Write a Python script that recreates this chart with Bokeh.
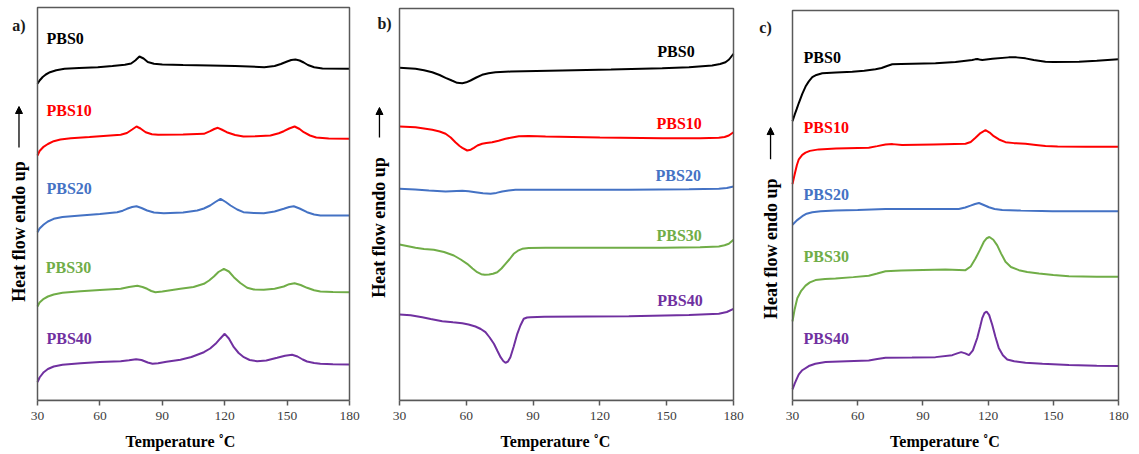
from bokeh.plotting import figure
from bokeh.layouts import row
from bokeh.models import Label, Arrow, NormalHead, FixedTicker, Range1d, BoxAnnotation
from bokeh.embed import file_html
from bokeh.resources import INLINE

samples = ["PBS0", "PBS10", "PBS20", "PBS30", "PBS40"]
colors = ["#000000", "#FF0000", "#4472C4", "#70AD47", "#7030A0"]
ticks = [30, 60, 90, 120, 150, 180]

# ---------------- panel a (heat flow, arbitrary offset units) ----------------
a0_t = [30, 31, 32.5, 34, 36, 39, 43, 50, 59, 66, 72, 75, 77, 79, 81, 83, 86, 90, 100, 113, 125, 139, 144, 147, 150, 152, 154, 156, 158, 160, 163, 167, 180]
a0_v = [316.7, 320, 323.5, 326, 328.3, 330.3, 331.7, 332.5, 333.3, 334.5, 335.7, 337, 340, 344, 342, 338.5, 336.8, 336, 335.5, 335, 334.5, 333.3, 334.5, 336.5, 339, 340.5, 341, 340, 338, 335.5, 333.3, 332, 331.7]
a10_t = [30, 31, 32.7, 35, 37.8, 41, 46, 55, 65, 70, 73, 75.5, 77.6, 79.5, 82, 85, 88, 100, 110, 113, 115, 116.7, 118.5, 121, 125, 129, 135, 142, 146, 148.4, 151, 153.6, 156, 158, 161, 164, 170, 180]
a10_v = [245, 249.5, 253.3, 256.5, 259.3, 261, 262.3, 263.5, 265, 265.7, 267.5, 271, 274, 272, 268.3, 266.3, 265.7, 266, 266.7, 269.3, 271.5, 272.7, 271, 268.3, 265.5, 264, 264.2, 265, 267.3, 269.3, 272, 274, 271.5, 268.3, 265, 263, 262, 261.7]
a20_t = [30, 31, 33, 35, 37.8, 42, 50.7, 60, 68.3, 71, 73, 75.5, 77.6, 80, 82.7, 86, 90.7, 100, 106.8, 110, 113, 115.5, 118, 120.5, 122.8, 126, 129, 134, 138.8, 144, 148.4, 151, 153.2, 156, 159.6, 163, 166, 172, 180]
a20_v = [168.3, 172, 176, 179, 181.7, 183.5, 185, 186.5, 188.3, 189.8, 191.7, 193.5, 194.3, 192.5, 190, 188, 187.3, 188, 190, 192, 195, 198.5, 201.7, 198.5, 195, 191, 188.3, 187.5, 187.3, 189, 191.7, 193.5, 194.3, 192, 188.3, 186, 185, 185, 185]
a30_t = [30, 31, 33, 35, 37.8, 42, 50.7, 60, 70, 74, 78, 80.5, 82.7, 84.7, 86.7, 90, 98.7, 105, 110, 112.5, 114.8, 117, 119.6, 122, 124.4, 127.5, 130.8, 134, 138.8, 144, 148.4, 151, 153.6, 156.5, 159.6, 163, 166, 172, 180]
a30_v = [94, 98, 101.7, 104, 106, 107.8, 109.3, 110.5, 111.7, 113.5, 114.7, 113.5, 111.7, 109.5, 108.3, 109, 111.7, 113.5, 116.7, 120, 124, 128.5, 131.7, 129, 123.3, 117.5, 112.7, 111, 110.7, 111.8, 114, 116.3, 117.3, 115.5, 112.7, 110.2, 109, 108.5, 108.3]
a40_t = [30, 31, 33, 35, 37.8, 42, 50.7, 60, 70, 74, 77.4, 80, 83, 85.3, 88, 92, 98.7, 104, 110, 113, 115.6, 117.8, 120, 122, 124.4, 126.7, 129.2, 132, 135.6, 140, 145.2, 149, 152.4, 155, 157.5, 159.6, 163, 166, 172, 180]
a40_v = [18.3, 23, 28.3, 31.5, 34, 35.8, 37.3, 38.5, 39.3, 40.3, 41.3, 40.5, 38, 36.7, 37.3, 38.8, 40.7, 43.5, 48.3, 52, 56.7, 61.8, 66.7, 62, 53.3, 47.5, 43.3, 40.5, 39.3, 40, 42.7, 44.8, 45.7, 44, 41, 39, 37.5, 36.7, 36.2, 36]

# ---------------- panel b ----------------
b0_t = [30, 37.2, 41, 44.7, 48, 50.7, 53.5, 55.9, 58.2, 60, 61.9, 64.5, 67.1, 70, 73.1, 80, 103, 125, 148, 160, 170.4, 174, 176.4, 178, 179.4, 180]
b0_v = [332.7, 331.7, 330.3, 328.3, 325.5, 322.7, 320, 317.7, 317.3, 318.2, 320, 323, 325.7, 327.3, 328.3, 329, 330, 331, 332.3, 333.3, 335, 336.5, 338.3, 341, 345, 346.7]
b10_t = [30, 37.2, 44.7, 48, 50.7, 53, 55.1, 57, 58.2, 60.4, 62, 63.4, 65, 67.1, 69, 71.6, 74.5, 77.6, 80.5, 83.6, 88, 95.6, 120, 148, 165, 173.4, 176, 177.9, 180]
b10_v = [274, 273.3, 270.7, 269, 266.7, 263, 258.3, 254.5, 252.7, 250, 250.8, 252.7, 255, 256.7, 257.5, 258.3, 259.8, 261.7, 263, 264.3, 264.5, 264, 263, 262.3, 262.3, 262.7, 263.5, 265, 268.3]
b20_t = [30, 37, 43.2, 50.7, 58.2, 61, 64.1, 67.5, 70.9, 73.5, 76.1, 79, 82.1, 100, 133, 160, 173.4, 177, 180]
b20_v = [211.7, 211, 210, 209, 209.7, 209.3, 208.3, 207.2, 206.7, 207.6, 209, 210, 210.7, 210.7, 210.7, 211.2, 211.7, 212.5, 214]
b30_t = [30, 37.2, 41, 45.4, 50, 54.4, 57.5, 60.4, 62.8, 64.9, 66.7, 68.3, 70.2, 72, 73.9, 75.8, 77.6, 79.5, 81.3, 83.2, 85.1, 88, 95.6, 120, 148, 165, 173.4, 176, 177.9, 180]
b30_v = [156, 152.7, 151.5, 150.7, 148.5, 145, 141, 136.7, 132, 128.3, 126.3, 125.7, 126, 126.8, 128.3, 132, 136.7, 141.5, 146.7, 149.8, 151.7, 152.4, 152.7, 152.7, 152.7, 153.2, 154, 155.2, 156.7, 160.7]
b40_t = [30, 35, 40.2, 44, 49.2, 54, 58.2, 61, 64.1, 66.5, 68.6, 70.5, 72.4, 74, 75.4, 76.6, 77.6, 78.7, 79.8, 81.3, 82.9, 84.3, 85.8, 87.3, 88.8, 95, 133, 160, 173.4, 177, 180]
b40_v = [86, 85.2, 83.3, 81.5, 79.3, 78.2, 77.3, 76, 74, 71.5, 68.3, 63, 56.7, 49.5, 43.3, 39.5, 37.7, 39, 43.3, 54, 66.7, 75, 81.7, 83, 83.3, 83.7, 84.3, 85.5, 86.7, 88.5, 91.7]

# ---------------- panel c ----------------
c0_t = [30, 31, 32, 32.9, 34.5, 36, 37.5, 39.1, 41, 43.7, 50, 57.5, 63, 68.2, 71, 73.5, 75.9, 80, 95.8, 105, 112.7, 114, 115, 116, 117.3, 122, 129.5, 133, 137.2, 141, 146.4, 150, 161.8, 170, 180]
c0_v = [281.3, 288, 294, 299.7, 309, 316.3, 321.5, 325.7, 328, 329.7, 330.5, 331.3, 332.3, 333.7, 335, 337, 338.7, 339, 339.7, 341, 343, 343.7, 344, 343.5, 343, 344.3, 345.7, 345.7, 344.7, 343, 341.3, 341, 341.3, 342.3, 343.7]
c10_t = [30, 31, 32, 32.9, 34.5, 36, 38, 42.1, 50, 65.1, 69, 72.8, 76, 80.4, 95, 109.6, 112, 114.2, 116.5, 118.8, 120.7, 122.6, 125, 128, 132, 137.2, 142, 146.4, 152, 165, 180]
c10_v = [218, 228, 237, 243, 247.5, 249.7, 251.5, 253, 253.8, 254.7, 256.3, 258, 258.3, 257.3, 258, 258.7, 260.5, 264.7, 269.5, 272.3, 270, 266.3, 263, 260.3, 259.3, 258.7, 257.5, 256.3, 255.8, 255.7, 255.7]
c20_t = [30, 32, 34.5, 36.5, 39.1, 43, 49.8, 60, 72.8, 90, 106.5, 109.5, 111.9, 114, 115.8, 118, 120.4, 123, 126.5, 135, 149.5, 165, 180]
c20_v = [177, 181.5, 185.7, 188.2, 189.7, 190.7, 191.3, 192, 193, 193, 193, 194.5, 196.3, 198, 199, 197, 194.7, 193, 192, 191.3, 190.7, 190.7, 190.7]
c30_t = [30, 31, 32.2, 34, 36, 38, 40.6, 45, 49.8, 58, 65.1, 69, 72.8, 80, 90, 100.4, 109.6, 112, 114.2, 116.2, 118, 119.4, 120.6, 122.4, 124.2, 126, 128, 130.5, 134.2, 138, 143.4, 150, 157.2, 170, 180]
c30_v = [79.7, 92, 103, 110.5, 115.7, 119, 121.3, 122.3, 123, 124.3, 125.7, 128, 130.3, 131, 131.5, 132, 131.3, 135, 143, 151.5, 159.7, 163.5, 164.7, 162, 156.3, 148, 139.7, 134.5, 131.3, 129.5, 128, 126.5, 125.3, 124.8, 124.7]
c40_t = [30, 31, 32, 32.9, 34.5, 37.5, 40.5, 45.2, 55, 65.1, 69, 72.8, 85, 95.8, 103.5, 105.8, 107.6, 109.5, 111.2, 113, 115, 116.3, 117.3, 118.3, 119.3, 120.5, 121.9, 123.4, 124.9, 126.8, 128.8, 132, 137.2, 145, 157.2, 170, 180]
c40_v = [11.3, 17, 22, 26.3, 30.5, 34.7, 37, 38.7, 39.5, 40.3, 41.8, 43, 43.3, 43.7, 45.7, 47.5, 48.7, 47.5, 45.7, 50.5, 63, 74, 83, 88, 89.7, 86, 76.3, 64, 53, 45.5, 41.3, 39.5, 38, 37, 35.7, 35, 34.7]

FONT = "Liberation Serif"
AXIS_COL = "#595959"
FIG_H = 454


def make_panel(curves, letter, label_xy, width, box_px, bottom_px, ytop, letter_xy, ylab_xy, arrow_y):
    # box_px: left/right pixel of the 30..180 box inside this figure
    bl, br = box_px
    scale = (br - bl) / 150.0
    x0 = 30 - bl / scale
    x1 = 180 + (width - br) / scale
    p = figure(width=width, height=FIG_H, output_backend="svg", toolbar_location=None,
               title=None, x_range=Range1d(x0, x1), y_range=Range1d(0, bottom_px),
               min_border_left=0, min_border_right=0,
               min_border_top=0, min_border_bottom=FIG_H - bottom_px)
    p.xgrid.visible = False
    p.ygrid.visible = False
    p.yaxis.visible = False
    p.outline_line_color = None
    p.background_fill_color = "white"
    p.border_fill_color = "white"
    ax = p.xaxis[0]
    ax.bounds = (30, 180)
    ax.ticker = FixedTicker(ticks=ticks)
    ax.axis_line_color = AXIS_COL
    ax.axis_line_width = 1.5
    ax.major_tick_line_color = AXIS_COL
    ax.major_tick_line_width = 1.5
    ax.major_tick_in = 0
    ax.major_tick_out = 5
    ax.minor_tick_line_color = None
    ax.major_label_text_font = FONT
    ax.major_label_text_font_size = "13.5px"
    ax.major_label_text_color = "#404040"
    ax.major_label_standoff = 6
    ax.axis_label = "Temperature ˚C"
    ax.axis_label_text_font = FONT
    ax.axis_label_text_font_style = "bold"
    ax.axis_label_text_font_size = "16px"
    ax.axis_label_text_color = "#000000"
    ax.axis_label_standoff = 10

    p.add_layout(BoxAnnotation(left=30, right=180, bottom=0, top=ytop, fill_color=None,
                               fill_alpha=0, line_color=AXIS_COL, line_width=1.5, line_alpha=1))

    for (t, v), c in zip(curves, colors):
        p.line(t, v, line_color=c, line_width=2)

    for name, c, (lx, ly) in zip(samples, colors, label_xy):
        p.add_layout(Label(x=lx, y=ly, text=name, text_color=c, text_font=FONT,
                           text_font_style="bold", text_font_size="16px",
                           text_align="left", text_baseline="middle"))

    p.add_layout(Label(x=letter_xy[0], y=letter_xy[1], text=letter, text_font=FONT,
                       text_font_style="bold", text_font_size="16px", text_color="#1a1a1a",
                       text_align="center", text_baseline="middle"))
    p.add_layout(Label(x=ylab_xy[0], y=ylab_xy[1], text="Heat flow endo up", angle=1.5707963,
                       text_font=FONT, text_font_style="bold", text_font_size="18px",
                       text_color="#000000", text_align="center", text_baseline="middle"))
    p.add_layout(Arrow(end=NormalHead(size=7, fill_color="black", line_color="black"),
                       x_start=ylab_xy[0], y_start=arrow_y[0], x_end=ylab_xy[0], y_end=arrow_y[1],
                       line_color="black", line_width=1.3))
    return p


pa = make_panel([(a0_t, a0_v), (a10_t, a10_v), (a20_t, a20_v), (a30_t, a30_v), (a40_t, a40_v)],
                "a)", [(34.3, 362), (34.3, 290), (34.3, 212), (34.0, 133), (34.3, 62)],
                360, (37, 349), 400, 393, (21.1, 375), (21.1, 169), (253, 294))
pb = make_panel([(b0_t, b0_v), (b10_t, b10_v), (b20_t, b20_v), (b30_t, b30_v), (b40_t, b40_v)],
                "b)", [(145.8, 349), (145.4, 277), (145.0, 225), (145.4, 165), (145.8, 100)],
                390, (39, 373), 400, 392, (23.3, 377), (21.0, 173), (263, 293))
pc = make_panel([(c0_t, c0_v), (c10_t, c10_v), (c20_t, c20_v), (c30_t, c30_v), (c40_t, c40_v)],
                "c)", [(35.1, 346), (35.1, 275), (35.1, 208), (35.1, 145), (35.1, 62)],
                389, (42, 368), 403, 393, (17.6, 376), (19.9, 153), (243, 275))

layout = row(pa, pb, pc)
open("out.html", "w").write(file_html(layout, INLINE))
